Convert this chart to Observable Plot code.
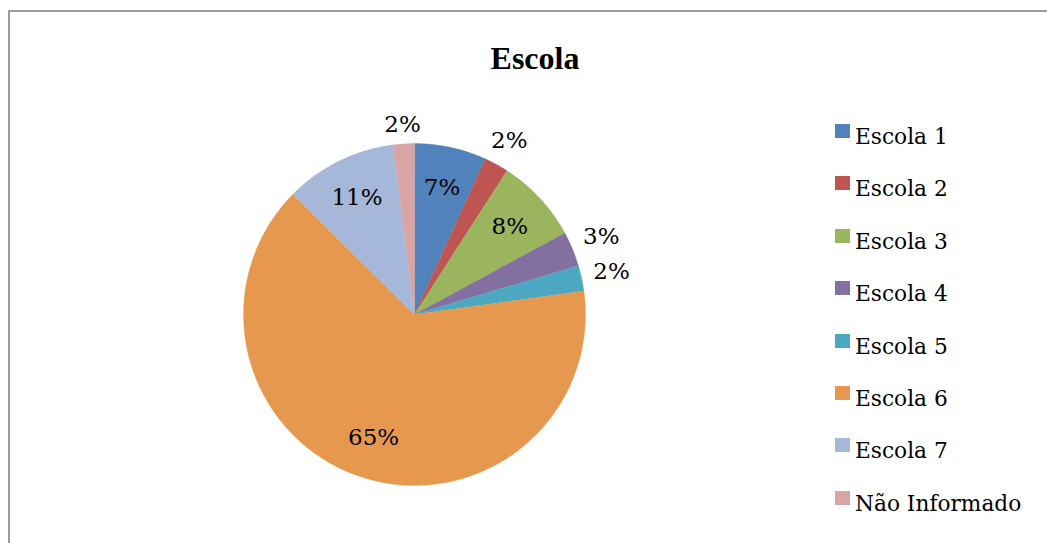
<!DOCTYPE html>
<html><head><meta charset="utf-8">
<script src="https://cdn.jsdelivr.net/npm/d3@7"></script>
<script src="https://cdn.jsdelivr.net/npm/@observablehq/plot@0.6"></script>
<style>
body{margin:0;background:#fff;width:1047px;height:543px;overflow:hidden;position:relative;font-family:"DejaVu Serif",serif;color:#000}
#frame{position:absolute;left:8px;top:10px;width:1100px;height:600px;border:2.5px solid #9c9c9c;box-sizing:border-box}
#title{position:absolute;left:435px;width:200px;text-align:center;top:42px;font-family:"Liberation Serif",serif;font-weight:bold;font-size:32px;line-height:32px}
#pie{position:absolute;left:184px;top:94px}
.row{position:absolute;left:855px;font-size:21.7px;line-height:21.7px;white-space:nowrap}
.sw{position:absolute;left:835px;width:15px;height:14px}
</style></head>
<body>
<div id="frame"></div>
<div id="title">Escola</div>
<div id="pie"></div>
<div id="legend"></div>
<script>
const categories = ["Escola 1","Escola 2","Escola 3","Escola 4","Escola 5","Escola 6","Escola 7","Não Informado"];
const values = [6.8, 2.3, 8.0, 3.3, 2.4, 64.6, 10.6, 2.0];
const labels = ["7%","2%","8%","3%","2%","65%","11%","2%"];
const colors = ["#5182BB","#BE5550","#9BB55E","#8470A0","#4BA8C0","#E5984E","#A5B8DA","#D9A4A4"];

const R = 171; // pixel radius
const W = 460, H = 440;
const total = d3.sum(values);
const pieGen = d3.pie().sort(null).value(d => d)(values);

// polygon vertices of each slice in unit-circle coordinates
const pts = [];
const labs = [];
pieGen.forEach((p, i) => {
  const a0 = p.startAngle, a1 = p.endAngle;
  const n = Math.max(2, Math.ceil((a1 - a0) / 0.01));
  pts.push({cat: categories[i], x: 0, y: 0});
  for (let k = 0; k <= n; k++) {
    const a = a0 + (a1 - a0) * k / n;
    pts.push({cat: categories[i], x: Math.sin(a), y: Math.cos(a)});
  }
  const m = (a0 + a1) / 2;
  let rr;
  if (values[i] / total < 0.05) {
    rr = (R + 8 + Math.abs(Math.sin(m)) * 21 + Math.abs(Math.cos(m)) * 10) / R;
  } else rr = 0.76;
  labs.push({cat: categories[i], label: labels[i], x: rr * Math.sin(m), y: rr * Math.cos(m)});
});

const chart = Plot.plot({
  width: W, height: H, margin: 0,
  x: {domain: [-W / 2 / R, W / 2 / R], axis: null},
  y: {domain: [-H / 2 / R, H / 2 / R], axis: null},
  color: {domain: categories, range: colors},
  style: {background: "transparent", overflow: "visible"},
  marks: [
    Plot.line(pts, {x: "x", y: "y", z: "cat", fill: "cat", stroke: "cat", strokeWidth: 0.3, curve: "linear-closed"}),
    Plot.text(labs, {x: "x", y: "y", text: "label", fontSize: 23, fontFamily: "DejaVu Serif", fill: "#000"})
  ]
});
document.getElementById("pie").appendChild(chart);

const leg = document.getElementById("legend");
categories.forEach((c, i) => {
  const top = 126 + i * 52.4;
  const sw = document.createElement("div");
  sw.className = "sw"; sw.style.top = (top - 2) + "px"; sw.style.background = colors[i];
  const t = document.createElement("div");
  t.className = "row"; t.style.top = top + "px"; t.textContent = c;
  leg.appendChild(sw); leg.appendChild(t);
});
</script>
</body></html>
